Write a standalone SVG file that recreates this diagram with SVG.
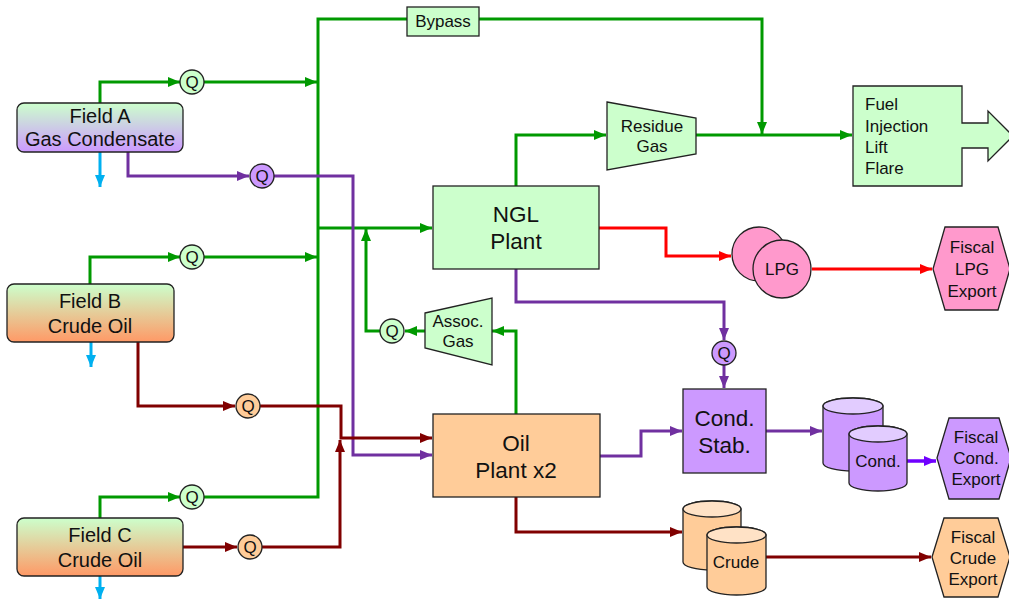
<svg xmlns="http://www.w3.org/2000/svg" width="1009" height="599" viewBox="0 0 1009 599">
<style>
text{font-family:"Liberation Sans",Arial,sans-serif;fill:#111;text-anchor:middle}
.s{font-size:17px}
.f{font-size:20px}
.b{font-size:22.5px}
.l{text-anchor:start}
.ln{fill:none;stroke-width:3}
.g{stroke:#009900}
.p{stroke:#7030a0}
.r{stroke:#ff0000}
.d{stroke:#800000}
.c{stroke:#00b0f0}
.v{stroke:#7000ff;stroke-width:3.5}
.nd{stroke:#222;stroke-width:1.3}
.gf{fill:#ccffcc}
.pf{fill:#cc99ff}
.of{fill:#ffcc99}
.kf{fill:#ff99cc}
</style>
<defs>
<linearGradient id="gA" x1="0" y1="0" x2="0" y2="1"><stop offset="0" stop-color="#ccffcc"/><stop offset="1" stop-color="#cc99ff"/></linearGradient>
<linearGradient id="gB" x1="0" y1="0" x2="0" y2="1"><stop offset="0" stop-color="#ccffcc"/><stop offset="1" stop-color="#ff9966"/></linearGradient>
<marker id="mg" markerUnits="userSpaceOnUse" markerWidth="12" markerHeight="10" refX="12" refY="5" orient="auto"><path d="M0,0 L12,5 L0,10 Z" fill="#009900"/></marker>
<marker id="mp" markerUnits="userSpaceOnUse" markerWidth="12" markerHeight="10" refX="12" refY="5" orient="auto"><path d="M0,0 L12,5 L0,10 Z" fill="#7030a0"/></marker>
<marker id="mr" markerUnits="userSpaceOnUse" markerWidth="12" markerHeight="10" refX="12" refY="5" orient="auto"><path d="M0,0 L12,5 L0,10 Z" fill="#ff0000"/></marker>
<marker id="md" markerUnits="userSpaceOnUse" markerWidth="12" markerHeight="10" refX="12" refY="5" orient="auto"><path d="M0,0 L12,5 L0,10 Z" fill="#800000"/></marker>
<marker id="mc" markerUnits="userSpaceOnUse" markerWidth="12" markerHeight="10" refX="12" refY="5" orient="auto"><path d="M0,0 L12,5 L0,10 Z" fill="#00b0f0"/></marker>
<marker id="mv" markerUnits="userSpaceOnUse" markerWidth="12" markerHeight="10" refX="12" refY="5" orient="auto"><path d="M0,0 L12,5 L0,10 Z" fill="#7000ff"/></marker>
</defs>

<g id="connectors">
<path class="ln g" d="M100,103 V82 H180" marker-end="url(#mg)"/>
<path class="ln g" d="M204,82 H317" marker-end="url(#mg)"/>
<path class="ln g" d="M90,284 V257 H180" marker-end="url(#mg)"/>
<path class="ln g" d="M204,257 H317" marker-end="url(#mg)"/>
<path class="ln g" d="M100,518 V497 H180" marker-end="url(#mg)"/>
<path class="ln g" d="M204,497 H318 V19 H407"/>
<path class="ln g" d="M479,19 H762 V134" marker-end="url(#mg)"/>
<path class="ln g" d="M318,228 H432" marker-end="url(#mg)"/>
<path class="ln g" d="M516,186 V135 H606" marker-end="url(#mg)"/>
<path class="ln g" d="M696,135 H852" marker-end="url(#mg)"/>
<path class="ln g" d="M516,414 V331 H492" marker-end="url(#mg)"/>
<path class="ln g" d="M425,331 H405" marker-end="url(#mg)"/>
<path class="ln g" d="M380,331 H366 V229" marker-end="url(#mg)"/>
<path class="ln p" d="M128,152 V176 H249" marker-end="url(#mp)"/>
<path class="ln p" d="M274,176 H353 V455 H432" marker-end="url(#mp)"/>
<path class="ln p" d="M516,269 V302 H724 V340" marker-end="url(#mp)"/>
<path class="ln p" d="M724,365 V388" marker-end="url(#mp)"/>
<path class="ln p" d="M600,456 H641 V431 H682" marker-end="url(#mp)"/>
<path class="ln p" d="M766,431 H822" marker-end="url(#mp)"/>
<path class="ln v" d="M907,461 H936" marker-end="url(#mv)"/>
<path class="ln d" d="M138,342 V406 H235" marker-end="url(#md)"/>
<path class="ln d" d="M260,406 H341 V438 H432" marker-end="url(#md)"/>
<path class="ln d" d="M183,547 H237" marker-end="url(#md)"/>
<path class="ln d" d="M262,547 H340 V440" marker-end="url(#md)"/>
<path class="ln d" d="M516,497 V532 H682" marker-end="url(#md)"/>
<path class="ln d" d="M766,557 H931" marker-end="url(#md)"/>
<path class="ln r" d="M599,228 H666 V256 H731" marker-end="url(#mr)"/>
<path class="ln r" d="M812,269 H932" marker-end="url(#mr)"/>
<path class="ln c" d="M100,152 V187" marker-end="url(#mc)"/>
<path class="ln c" d="M91,342 V367" marker-end="url(#mc)"/>
<path class="ln c" d="M100,576 V599" marker-end="url(#mc)"/>
</g>

<g id="fieldA"><rect x="17" y="103" width="166" height="49" rx="7" fill="url(#gA)" class="nd"/><text class="f" x="100" y="123">Field A</text><text class="f" x="100" y="146">Gas Condensate</text></g>
<g id="fieldB"><rect x="7" y="284" width="167" height="58" rx="7" fill="url(#gB)" class="nd"/><text class="f" x="90" y="308">Field B</text><text class="f" x="90" y="333">Crude Oil</text></g>
<g id="fieldC"><rect x="17" y="518" width="166" height="58" rx="7" fill="url(#gB)" class="nd"/><text class="f" x="100" y="542">Field C</text><text class="f" x="100" y="567">Crude Oil</text></g>

<g id="qA1"><circle cx="192" cy="82" r="12" class="nd gf"/><text class="s" x="192" y="88">Q</text></g>
<g id="qA2"><circle cx="262" cy="176" r="12" class="nd pf"/><text class="s" x="262" y="182">Q</text></g>
<g id="qB1"><circle cx="192" cy="257" r="12" class="nd gf"/><text class="s" x="192" y="263">Q</text></g>
<g id="qB2"><circle cx="248" cy="406" r="12" class="nd of"/><text class="s" x="248" y="412">Q</text></g>
<g id="qC1"><circle cx="192" cy="497" r="12" class="nd gf"/><text class="s" x="192" y="503">Q</text></g>
<g id="qC2"><circle cx="250" cy="547" r="12" class="nd of"/><text class="s" x="250" y="553">Q</text></g>
<g id="qAssoc"><circle cx="392" cy="331" r="12" class="nd gf"/><text class="s" x="392" y="337">Q</text></g>
<g id="qCond"><circle cx="724" cy="353" r="12" class="nd pf"/><text class="s" x="724" y="359">Q</text></g>

<g id="bypass"><rect x="407" y="7" width="72" height="29" class="nd gf"/><text class="s" x="443" y="27">Bypass</text></g>
<g id="ngl"><rect x="433" y="186" width="166" height="83" class="nd gf"/><text class="b" x="516" y="222">NGL</text><text class="b" x="516" y="249">Plant</text></g>
<g id="oil"><rect x="433" y="414" width="167" height="83" class="nd of"/><text class="b" x="516" y="451">Oil</text><text class="b" x="516" y="478">Plant x2</text></g>
<g id="residue"><polygon points="607,102 696,118 696,154 607,170" class="nd gf"/><text class="s" x="652" y="132">Residue</text><text class="s" x="652" y="152">Gas</text></g>
<g id="assoc"><polygon points="425,313 492,298 492,365 425,348" class="nd gf"/><text class="s" x="458" y="327">Assoc.</text><text class="s" x="458" y="347">Gas</text></g>
<g id="fuel"><path d="M853,86 H962 V123 H988 V111 L1013,136 L988,161 V148 H962 V186 H853 Z" class="nd gf"/><text class="s l" x="865" y="110">Fuel</text><text class="s l" x="865" y="132">Injection</text><text class="s l" x="865" y="153">Lift</text><text class="s l" x="865" y="174">Flare</text></g>
<g id="lpg"><circle cx="759" cy="254" r="27" class="nd kf"/><circle cx="782" cy="269" r="29" class="nd kf"/><text class="s" x="782" y="275">LPG</text></g>
<g id="lpgExport"><polygon points="933,269 945,227 998,227 1010,269 998,310 945,310" class="nd kf"/><text class="s" x="972" y="253">Fiscal</text><text class="s" x="972" y="275">LPG</text><text class="s" x="972" y="297">Export</text></g>
<g id="condStab"><rect x="683" y="389" width="83" height="84" class="nd pf"/><text class="b" x="724.5" y="426">Cond.</text><text class="b" x="724.5" y="453">Stab.</text></g>
<g id="condTanks"><path d="M823,406 A30,8 0 0 1 883,406 V463 A30,8 0 0 1 823,463 Z" class="nd pf"/><ellipse cx="853" cy="406" rx="30" ry="8" class="nd" fill="#e2ccff"/><path d="M849,434 A29,8 0 0 1 907,434 V483 A29,8 0 0 1 849,483 Z" class="nd pf"/><ellipse cx="878" cy="434" rx="29" ry="8" class="nd" fill="#e2ccff"/><text class="s" x="878" y="467">Cond.</text></g>
<g id="condExport"><polygon points="937,458 949,418 999,418 1011,458 999,499 949,499" class="nd pf"/><text class="s" x="976" y="443">Fiscal</text><text class="s" x="976" y="464">Cond.</text><text class="s" x="976" y="485">Export</text></g>
<g id="crudeTanks"><path d="M683,509 A29,8 0 0 1 741,509 V562 A29,8 0 0 1 683,562 Z" class="nd of"/><ellipse cx="712" cy="509" rx="29" ry="8" class="nd" fill="#ffe2c6"/><path d="M707,535 A29.5,8 0 0 1 766,535 V587 A29.5,8 0 0 1 707,587 Z" class="nd of"/><ellipse cx="736.5" cy="535" rx="29.5" ry="8" class="nd" fill="#ffe2c6"/><text class="s" x="736" y="568">Crude</text></g>
<g id="crudeExport"><polygon points="932,557 944,518 998,518 1010,557 998,597 944,597" class="nd of"/><text class="s" x="973" y="543">Fiscal</text><text class="s" x="973" y="564">Crude</text><text class="s" x="973" y="585">Export</text></g>
</svg>
